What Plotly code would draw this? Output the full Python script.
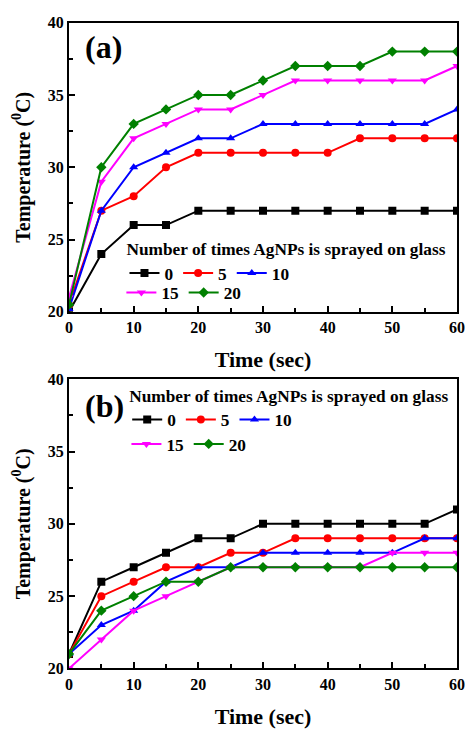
import plotly.graph_objects as go

time_sec = [0, 5, 10, 15, 20, 25, 30, 35, 40, 45, 50, 55, 60]
series_names = ["0", "5", "10", "15", "20"]

# Panel (a)
a_0 = [20, 24, 26, 26, 27, 27, 27, 27, 27, 27, 27, 27, 27]
a_5 = [20.5, 27, 28, 30, 31, 31, 31, 31, 31, 32, 32, 32, 32]
a_10 = [20.2, 27, 30, 31, 32, 32, 33, 33, 33, 33, 33, 33, 34]
a_15 = [21, 29, 32, 33, 34, 34, 35, 36, 36, 36, 36, 36, 37]
a_20 = [20.5, 30, 33, 34, 35, 35, 36, 37, 37, 37, 38, 38, 38]

# Panel (b)
b_0 = [21, 26, 27, 28, 29, 29, 30, 30, 30, 30, 30, 30, 31]
b_5 = [21, 25, 26, 27, 27, 28, 28, 29, 29, 29, 29, 29, 29]
b_10 = [21, 23, 24, 26, 27, 27, 28, 28, 28, 28, 28, 29, 29]
b_15 = [20, 22, 24, 25, 26, 27, 27, 27, 27, 27, 28, 28, 28]
b_20 = [21, 24, 25, 26, 26, 27, 27, 27, 27, 27, 27, 27, 27]

colors = ["#000000", "#FF0000", "#0000FF", "#FF00FF", "#008000"]
symbols = ["square", "circle", "triangle-up", "triangle-down", "diamond"]

FONT = "Liberation Serif"

fig = go.Figure()

panels = [
    ([a_0, a_5, a_10, a_15, a_20], "x", "y", ["legend", "legend", "legend", "legend2", "legend2"]),
    ([b_0, b_5, b_10, b_15, b_20], "x2", "y2", ["legend3", "legend3", "legend3", "legend4", "legend4"]),
]
for data, xa, ya, legs in panels:
    for i, vals in enumerate(data):
        fig.add_trace(go.Scatter(
            x=time_sec, y=vals, name=series_names[i], mode="lines+markers",
            line=dict(color=colors[i], width=2),
            marker=dict(symbol=symbols[i], size=8, color=colors[i]),
            xaxis=xa, yaxis=ya, legend=legs[i],
        ))

H = 740
def py(p):
    return 1 - p / H

axis_common = dict(
    showline=True, linecolor="black", linewidth=2, mirror=True,
    ticks="inside", tickwidth=2, ticklen=6, tickcolor="black",
    showgrid=False, zeroline=False, ticklabeloverflow="allow",
    tickfont=dict(family=FONT, size=16, color="black", weight="bold"),
)
xcommon = dict(axis_common, range=[0, 60], dtick=10, tick0=0,
               minor=dict(dtick=5, ticks="inside", ticklen=4, tickwidth=2, tickcolor="black"),
               title=dict(text="Time (sec)", font=dict(family=FONT, size=22, color="black", weight="bold"), standoff=17))
ycommon = dict(axis_common, range=[20, 40], dtick=5, tick0=20,
               minor=dict(dtick=2.5, ticks="inside", ticklen=4, tickwidth=2, tickcolor="black"),
               title=dict(text="Temperature (<sup>0</sup>C)", font=dict(family=FONT, size=20, color="black", weight="bold"), standoff=12))

fig.update_layout(
    width=465, height=740,
    margin=dict(l=69, r=8, t=0, b=0),
    paper_bgcolor="white", plot_bgcolor="white",
    xaxis=dict(xcommon, domain=[0, 1], anchor="y"),
    yaxis=dict(ycommon, domain=[py(311), py(15)], anchor="x"),
    xaxis2=dict(xcommon, domain=[0, 1], anchor="y2"),
    yaxis2=dict(ycommon, domain=[py(676), py(380)], anchor="x2"),
    font=dict(family=FONT, color="black"),
)

leg_font = dict(family=FONT, size=17.3, color="black", weight="bold")
leg_common = dict(orientation="h", xanchor="left", yanchor="top", bgcolor="rgba(0,0,0,0)",
                  font=leg_font, itemwidth=30, tracegroupgap=0)
fig.update_layout(
    legend=dict(leg_common, x=0.143, y=py(230),
                title=dict(text="Number of times AgNPs is sprayed on glass", side="top",
                           font=leg_font)),
    legend2=dict(leg_common, x=0.135, y=py(273)),
    legend3=dict(leg_common, x=0.15, y=py(380),
                 title=dict(text="Number of times AgNPs is sprayed on glass", side="top",
                            font=leg_font)),
    legend4=dict(leg_common, x=0.148, y=py(428)),
)

fig.add_annotation(text="(a)", x=0.035, y=py(40), xref="paper", yref="paper",
                   xanchor="left", yanchor="middle", showarrow=False,
                   font=dict(family=FONT, size=32, color="black", weight="bold"))
fig.add_annotation(text="(b)", x=0.035, y=py(407), xref="paper", yref="paper",
                   xanchor="left", yanchor="middle", showarrow=False,
                   font=dict(family=FONT, size=32, color="black", weight="bold"))

fig.write_html("out.html", config={"displayModeBar": False},
               post_script="document.body.style.margin='0';")
